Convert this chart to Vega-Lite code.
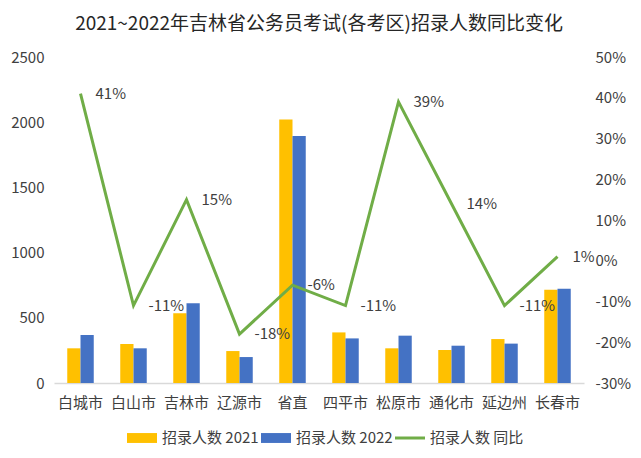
{
  "$schema": "https://vega.github.io/schema/vega-lite/v6.json",
  "width": 530,
  "height": 326,
  "autosize": {"type": "none"},
  "padding": {"left": 54, "top": 57, "right": 57, "bottom": 75},
  "background": "white",
  "config": {
    "font": "Noto Sans CJK SC",
    "view": {"stroke": null},
    "axis": {"labelFont": "Noto Sans CJK SC", "labelFontSize": 14, "labelColor": "#404040", "grid": false, "ticks": false, "title": null}
  },
  "title": {"text": "2021~2022年吉林省公务员考试(各考区)招录人数同比变化", "fontSize": 19, "fontWeight": "normal", "color": "#262626", "anchor": "middle", "offset": 16, "font": "Noto Sans CJK SC"},
  "datasets": {
    "bars": [
      {"city": "白城市", "series": "招录人数 2021", "value": 266},
      {"city": "白城市", "series": "招录人数 2022", "value": 368},
      {"city": "白山市", "series": "招录人数 2021", "value": 299},
      {"city": "白山市", "series": "招录人数 2022", "value": 266},
      {"city": "吉林市", "series": "招录人数 2021", "value": 534},
      {"city": "吉林市", "series": "招录人数 2022", "value": 611},
      {"city": "辽源市", "series": "招录人数 2021", "value": 245},
      {"city": "辽源市", "series": "招录人数 2022", "value": 199},
      {"city": "省直", "series": "招录人数 2021", "value": 2021},
      {"city": "省直", "series": "招录人数 2022", "value": 1895},
      {"city": "四平市", "series": "招录人数 2021", "value": 388},
      {"city": "四平市", "series": "招录人数 2022", "value": 342},
      {"city": "松原市", "series": "招录人数 2021", "value": 266},
      {"city": "松原市", "series": "招录人数 2022", "value": 363},
      {"city": "通化市", "series": "招录人数 2021", "value": 253},
      {"city": "通化市", "series": "招录人数 2022", "value": 286},
      {"city": "延边州", "series": "招录人数 2021", "value": 337},
      {"city": "延边州", "series": "招录人数 2022", "value": 302},
      {"city": "长春市", "series": "招录人数 2021", "value": 716},
      {"city": "长春市", "series": "招录人数 2022", "value": 723}
    ],
    "ratio": [
      {"city": "白城市", "ratio": 0.41, "label": "41%"},
      {"city": "白山市", "ratio": -0.11, "label": "-11%"},
      {"city": "吉林市", "ratio": 0.15, "label": "15%"},
      {"city": "辽源市", "ratio": -0.18, "label": "-18%"},
      {"city": "省直", "ratio": -0.06, "label": "-6%"},
      {"city": "四平市", "ratio": -0.11, "label": "-11%"},
      {"city": "松原市", "ratio": 0.39, "label": "39%"},
      {"city": "通化市", "ratio": 0.14, "label": "14%"},
      {"city": "延边州", "ratio": -0.11, "label": "-11%"},
      {"city": "长春市", "ratio": 0.01, "label": "1%"}
    ]
  },
  "encoding": {
    "x": {
      "field": "city", "type": "nominal", "sort": null,
      "scale": {"paddingInner": 0.5, "paddingOuter": 0.25},
      "axis": {"labelAngle": 0, "labelPadding": 12, "labelFontSize": 15, "domainColor": "#d9d9d9", "domainWidth": 1.5}
    }
  },
  "layer": [
    {
      "data": {"name": "bars"},
      "mark": {"type": "bar"},
      "encoding": {
        "xOffset": {"field": "series", "type": "nominal"},
        "y": {"field": "value", "type": "quantitative", "scale": {"domain": [0, 2500], "nice": false},
              "axis": {"values": [0, 500, 1000, 1500, 2000, 2500], "format": "d", "domain": false, "labelPadding": 10, "labelFontSize": 15}},
        "color": {
          "field": "series", "type": "nominal",
          "scale": {"domain": ["招录人数 2021", "招录人数 2022", "招录人数 同比"], "range": ["#FFC000", "#4472C4", "#70AD47"]},
          "legend": {
            "title": null, "orient": "none", "direction": "horizontal", "legendX": 73, "legendY": 366,
            "labelFontSize": 15, "labelColor": "#404040", "labelFont": "Noto Sans CJK SC",
            "symbolSize": 900, "columnPadding": 2, "labelOffset": 5,
            "encode": {
              "symbols": {"update": {
                "shape": {"signal": "datum.value === '招录人数 同比' ? 'M-1,-0.1H1V0.1H-1Z' : 'M-1,-0.33H1V0.33H-1Z'"},
                "fill": {"signal": "scale('color', datum.value)"},
                "strokeWidth": {"value": 0},
                "opacity": {"value": 1}
              }}
            }
          }
        }
      }
    },
    {
      "data": {"name": "ratio"},
      "encoding": {
        "y": {"field": "ratio", "type": "quantitative", "scale": {"domain": [-0.3, 0.5], "nice": false},
              "axis": {"orient": "right", "values": [-0.3, -0.2, -0.1, 0, 0.1, 0.2, 0.3, 0.4, 0.5], "format": ".0%", "labelExpr": "replace(datum.label, '−', '-')", "domain": false, "labelPadding": 11, "labelFontSize": 15}}
      },
      "layer": [
        {
          "mark": {"type": "line", "strokeWidth": 3},
          "encoding": {
            "color": {"datum": "招录人数 同比"}
          }
        },
        {
          "mark": {"type": "text", "align": "left", "baseline": "middle", "dx": 15, "fontSize": 15, "color": "#404040", "font": "Noto Sans CJK SC"},
          "encoding": {
            "text": {"field": "label", "type": "nominal"}
          }
        }
      ]
    }
  ],
  "resolve": {"scale": {"y": "independent"}}
}
